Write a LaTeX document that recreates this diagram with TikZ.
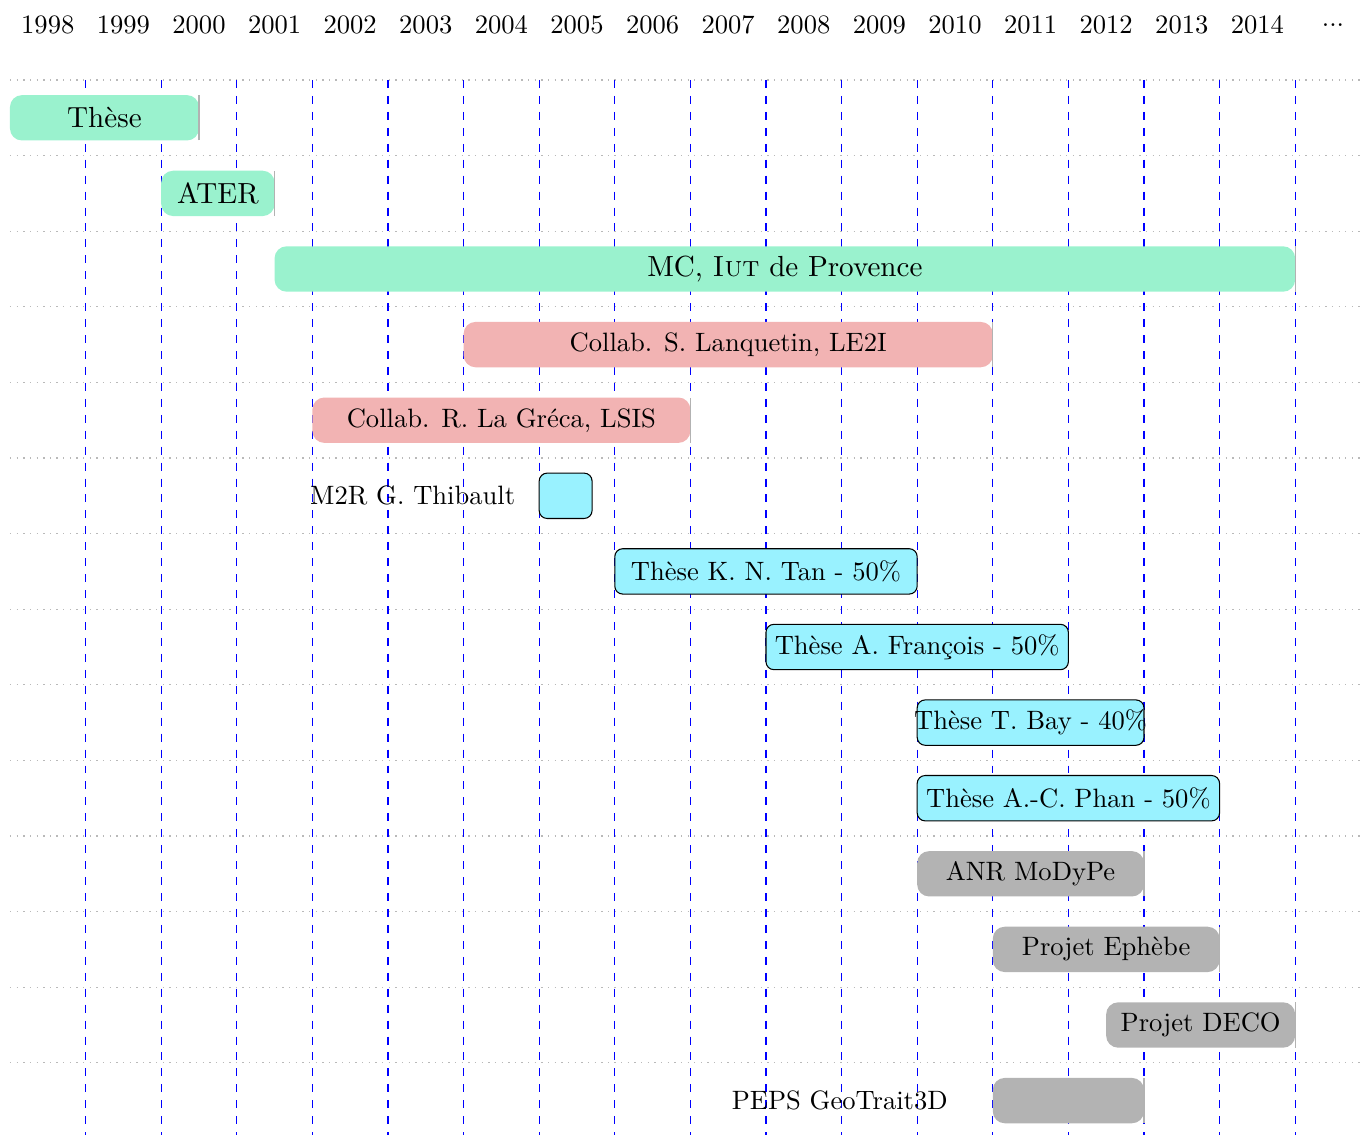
\documentclass[tikz,border=0pt]{standalone}
\usetikzlibrary{calc}
\definecolor{mintbar}{RGB}{154,242,206}
\definecolor{pinkbar}{RGB}{242,179,179}
\definecolor{cyanbar}{RGB}{153,242,255}
\definecolor{graybar}{RGB}{179,179,179}
\tikzset{
  rowline/.style={gray!55, dotted, line width=0.5pt},
  yearline/.style={blue, dashed, line width=0.5pt},
  softbar/.style={fill=#1, draw=none, rounded corners=4.5pt},
  hardbar/.style={fill=cyanbar, draw=black, line width=0.4pt, rounded corners=3pt},
  barend/.style={gray!60, line width=0.4pt},
  barlabel/.style={inner sep=0pt, font=\normalsize},
  biglabel/.style={inner sep=0pt, font=\fontsize{10.95}{13.6}\selectfont},
  sidelabel/.style={inner sep=0pt, anchor=east},
  yearlabel/.style={inner sep=0pt}
}
% #1 name, #2 start, #3 end, #4 row, #5 colour, #6 text, #7 label style
\newcommand\softganttbar[7][barlabel]{%
  \path[softbar=#6] (#3,{-(0.558+#5)-0.3}) rectangle (#4,{-(0.558+#5)+0.3});
  \draw[barend] (#4,{-(0.558+#5)-0.3}) -- (#4,{-(0.558+#5)+0.3});
  \node[#1] (#2) at ({(#3+#4)/2},{-(0.558+#5)}) {#7};}
\newcommand\hardganttbar[5]{%
  \draw[hardbar] (#2,{-(0.558+#4)-0.3}) rectangle (#3,{-(0.558+#4)+0.3});
  \node[barlabel] (#1) at ({(#2+#3)/2},{-(0.558+#4)}) {#5};}
\begin{document}
\begin{tikzpicture}
\useasboundingbox (-0.132,0) rectangle (17.884,-15.013);
% year labels
\foreach \k/\yr in {0/1998,1/1999,2/2000,3/2001,4/2002,5/2003,6/2004,7/2005,8/2006,9/2007,10/2008,11/2009,12/2010,13/2011,14/2012,15/2013,16/2014}
  \node[yearlabel] (y\yr) at (\k+0.5,-0.33) {\yr};
\node[yearlabel] (ydots) at (17.5,-0.33) {...};
% horizontal dotted row lines
\foreach \k in {0,...,13}
  \draw[rowline] (0,{-(1.058+\k)}) -- (17.884,{-(1.058+\k)});
% vertical dashed year lines
\foreach \k in {1,...,17}
  \draw[yearline] (\k,-1.058) -- (\k,-15.013);
% bars
\softganttbar[biglabel]{these}{0}{2.5}{1}{mintbar}{Thèse}
\softganttbar[biglabel]{ater}{2}{3.5}{2}{mintbar}{ATER}
\softganttbar[biglabel]{mc}{3.5}{17}{3}{mintbar}{MC, \textsc{Iut} de Provence}
\softganttbar{lanquetin}{6}{13}{4}{pinkbar}{Collab. S. Lanquetin, LE2I}
\softganttbar{lagreca}{4}{9}{5}{pinkbar}{Collab. R. La Gréca, LSIS}
\hardganttbar{m2r}{7}{7.7}{6}{}
\node[sidelabel] (m2rlabel) at (6.69,{-(0.558+6)}) {M2R G. Thibault};
\hardganttbar{tan}{8}{12}{7}{Thèse K. N. Tan - 50\%}
\hardganttbar{francois}{10}{14}{8}{Thèse A. François - 50\%}
\hardganttbar{bay}{12}{15}{9}{Thèse T. Bay - 40\%}
\hardganttbar{phan}{12}{16}{10}{Thèse A.-C. Phan - 50\%}
\softganttbar{anr}{12}{15}{11}{graybar}{ANR MoDyPe}
\softganttbar{ephebe}{13}{16}{12}{graybar}{Projet Ephèbe}
\softganttbar{deco}{14.5}{17}{13}{graybar}{Projet DECO}
\softganttbar{peps}{13}{15}{14}{graybar}{}
\node[sidelabel] (pepslabel) at (12.41,{-(0.558+14)}) {PEPS GeoTrait3D};
\end{tikzpicture}
\end{document}
